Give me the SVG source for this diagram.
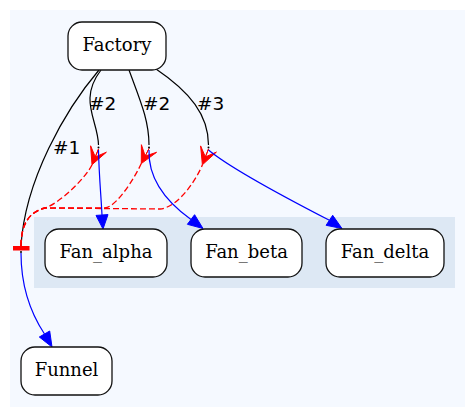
<svg xmlns="http://www.w3.org/2000/svg" width="476" height="417" viewBox="0 0 476 417">
<style>
.node rect{fill:#ffffff;stroke:#111111;stroke-width:1.3}
.node text{font-family:"DejaVu Serif",serif;font-size:18px;text-anchor:middle;fill:#000}
.lbl{font-family:"DejaVu Sans",sans-serif;font-size:18.5px;fill:#000}
.blk{fill:none;stroke:#000;stroke-width:1.2}
.blu{fill:none;stroke:#0000ff;stroke-width:1.2}
.red{fill:none;stroke:#ff0000;stroke-width:1.3;stroke-dasharray:6,3}
.bah{fill:#0000ff;stroke:#0000ff;stroke-width:1}
.crow{fill:#ff0000;stroke:#ff0000;stroke-width:1;stroke-linejoin:miter}
.pt{fill:#000}
</style>
<rect x="10" y="10" width="455" height="397" fill="#f5f9ff"/>
<rect x="34" y="217" width="421" height="71" fill="#dde8f4"/>

<g id="connectors">
  <path class="blk" d="M99,70 C65,110 25,180 21,246"/>
  <path class="blk" d="M101,70 C78,100 98,120 98.5,145"/>
  <path class="blk" d="M129,70 C140,100 149,120 149,145"/>
  <path class="blk" d="M156,69 C190,92 208.5,115 208.5,145"/>
  <text class="lbl" x="53" y="154">#1</text>
  <text class="lbl" x="89" y="110">#2</text>
  <text class="lbl" x="143" y="110">#2</text>
  <text class="lbl" x="197" y="110">#3</text>

  <path class="red" d="M21,246 C21,226 28,212 45,208 C62,202 87,176 92,164.7"/>
  <path class="red" d="M21,246 C21,226 28,212 45,208 L105,208 C118,206 136,175 141.3,163.6"/>
  <path class="red" d="M21,246 C21,226 28,212 45,208 L160,209 C180,207 198,176 202.4,164.8"/>
  <rect x="13" y="246" width="16.5" height="4.5" fill="#ff0000"/>

  <path class="crow" d="M92,164.7 L106.4,152.2 L95.3,156.9 L98.5,149 L95.3,156.9 L90.6,145.8 Z"/>
  <path class="crow" d="M141.3,163.6 L156.6,152.3 L145.2,156.1 L149,148.5 L145.2,156.1 L141.4,144.7 Z"/>
  <path class="crow" d="M202.4,164.8 L216.4,152.1 L205.4,156.9 L208.5,149 L205.4,156.9 L200.6,145.9 Z"/>

  <path class="blu" d="M98.5,150 C99,175 101,195 102,215"/>
  <polygon class="bah" points="103,229 108,214.6 96,215.4"/>
  <path class="blu" d="M149,150 C148,180 168,203 191,219.5"/>
  <polygon class="bah" points="203,228.5 194.6,214.7 187.4,224.3"/>
  <path class="blu" d="M208.5,150 C230,168 290,200 329.4,220.3"/>
  <polygon class="bah" points="342,228.5 332.7,215.3 326.1,225.3"/>
  <path class="blu" d="M21,253 C21,285 30,312 44.5,334"/>
  <polygon class="bah" points="52,347 49.7,331 39.3,337"/>
</g>

<g id="p1"><circle class="pt" cx="98.5" cy="147.5" r="1"/></g>
<g id="p2"><circle class="pt" cx="149" cy="147.5" r="1"/></g>
<g id="p3"><circle class="pt" cx="208.5" cy="147.5" r="1"/></g>
<g id="junction"><circle class="pt" cx="21" cy="252" r="1"/></g>

<g id="Factory" class="node"><rect x="68" y="22" width="98" height="48" rx="14"/><text x="117" y="51">Factory</text></g>
<g id="Fan_alpha" class="node"><rect x="45" y="229" width="122" height="48" rx="14"/><text x="106" y="258">Fan_alpha</text></g>
<g id="Fan_beta" class="node"><rect x="191" y="229" width="111" height="48" rx="14"/><text x="246.5" y="258">Fan_beta</text></g>
<g id="Fan_delta" class="node"><rect x="326" y="229" width="118" height="48" rx="14"/><text x="385" y="258">Fan_delta</text></g>
<g id="Funnel" class="node"><rect x="21" y="347" width="91" height="48" rx="14"/><text x="66.5" y="376">Funnel</text></g>
</svg>
